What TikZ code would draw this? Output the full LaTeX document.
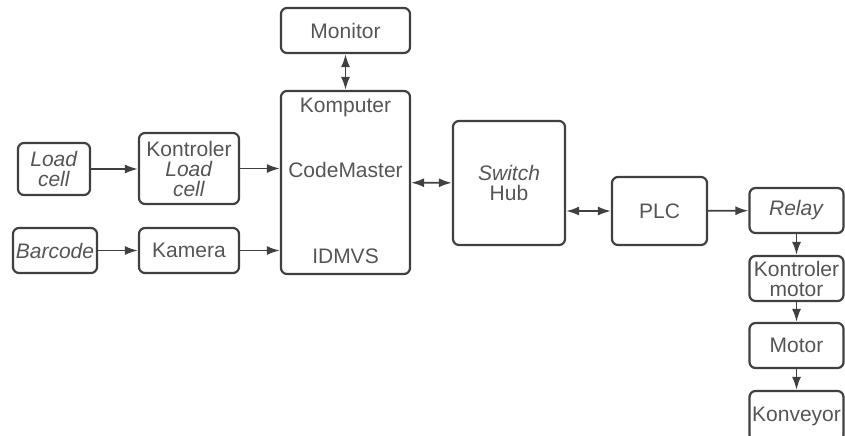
\documentclass[tikz,border=0pt]{standalone}
\usepackage{fontspec}
\setmainfont{Liberation Sans}
\usepackage{tikz}
\usepackage{xcolor}
\usetikzlibrary{shapes, positioning, arrows.meta}

\definecolor{garis}{HTML}{404040}
\definecolor{teks}{HTML}{555555}

\begin{document}
\begin{tikzpicture}[x=0.5pt, y=-0.5pt,
        blok/.style={draw=garis, line width=1.1pt, rounded corners=3pt, inner sep=0pt,
            align=center, text=teks, font=\fontsize{10.5}{10}\selectfont},
        >={Latex[length=6.5pt, width=4.5pt]}]
        \useasboundingbox (0, 0) rectangle (845, 435);

        \node[blok, minimum width=36pt, minimum height=26pt] (lc) at (54, 169) {\textit{Load}\\\textit{cell}};
        \node[blok, minimum width=50pt, minimum height=35.5pt] (klc) at (189, 168.5) {Kontroler\\\textit{Load}\\\textit{cell}};
        \node[blok, minimum width=42pt, minimum height=22.5pt] (bc) at (55, 250.5) {\textit{Barcode}};
        \node[blok, minimum width=50pt, minimum height=22.5pt] (kam) at (189, 250.5) {Kamera};
        \node[blok, minimum width=64.5pt, minimum height=22.5pt] (mon) at (345.5, 30.5) {Monitor};
        \node[blok, minimum width=64.5pt, minimum height=91.5pt] (pc) at (345.5, 182.5) {};
        \node[text=teks, font=\fontsize{10.5}{10}\selectfont] (pc1) at (345.5, 107) {Komputer};
        \node[text=teks, font=\fontsize{10.5}{10}\selectfont] (pc2) at (345.5, 170) {CodeMaster};
        \node[text=teks, font=\fontsize{10.5}{10}\selectfont] (pc3) at (345.5, 256) {IDMVS};
        \node[blok, minimum width=56pt, minimum height=62pt] (sw) at (509, 183) {\textit{Switch}\\Hub};
        \node[blok, minimum width=47.5pt, minimum height=34pt] (plc) at (659.5, 211) {PLC};
        \node[blok, minimum width=47pt, minimum height=22.5pt] (rel) at (796.5, 210.5) {\textit{Relay}};
        \node[blok, minimum width=47pt, minimum height=22.5pt] (km) at (796.5, 278.5) {Kontroler\\motor};
        \node[blok, minimum width=47pt, minimum height=22.5pt] (mot) at (796.5, 345.5) {Motor};
        \node[blok, minimum width=47pt, minimum height=25pt] (kon) at (796.5, 416) {Konveyor};

        \draw[->, garis, line width=0.9pt] (lc) to (klc.west |- lc);
        \draw[->, garis, line width=0.9pt] (klc.east) to (klc.east -| pc.west);
        \draw[->, garis, line width=0.9pt] (bc) to (kam);
        \draw[->, garis, line width=0.9pt] (kam.east) to (kam.east -| pc.west);
        \draw[<->, garis, line width=0.9pt] (mon) to (pc);
        \draw[<->, garis, line width=0.9pt] (pc) to (sw);
        \draw[<->, garis, line width=0.9pt] (sw.east |- plc) to (plc);
        \draw[->, garis, line width=0.9pt] (plc) to (rel);
        \draw[->, garis, line width=0.9pt] (rel) to (km);
        \draw[->, garis, line width=0.9pt] (km) to (mot);
        \draw[->, garis, line width=0.9pt] (mot) to (kon);
    \end{tikzpicture}
\end{document}
